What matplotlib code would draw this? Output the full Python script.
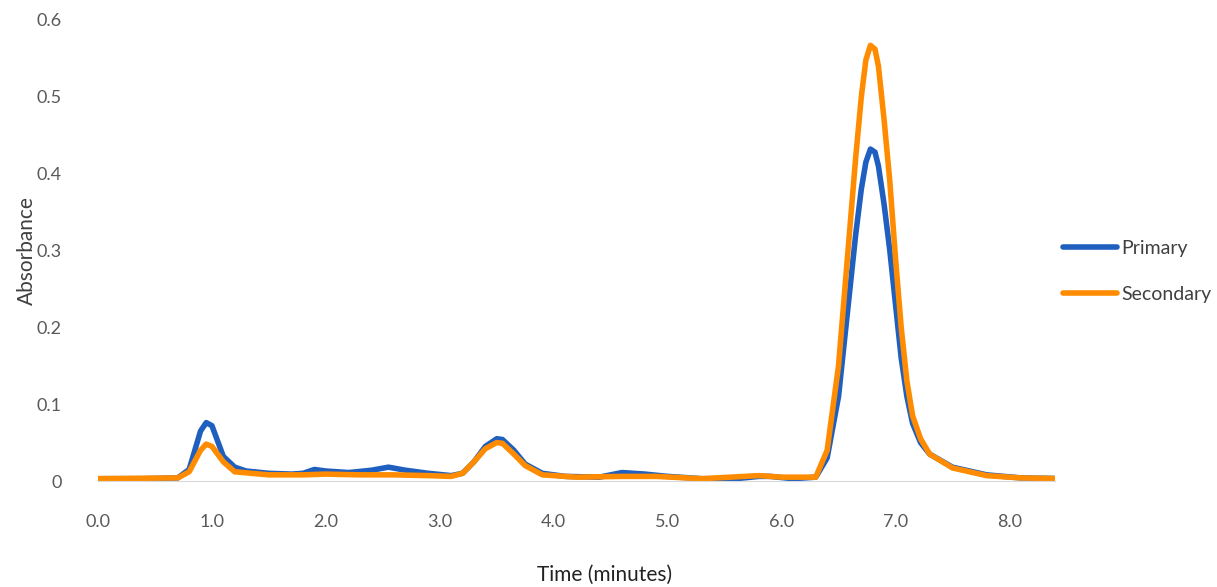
import matplotlib
matplotlib.use("Agg")
import matplotlib.pyplot as plt

t_primary = [0.0,0.4,0.7,0.8,0.85,0.9,0.95,1.0,1.05,1.1,1.2,1.3,1.5,1.7,1.8,1.9,2.0,2.2,2.4,2.55,2.7,2.9,3.1,3.2,3.3,3.4,3.5,3.55,3.65,3.75,3.9,4.1,4.4,4.6,4.8,5.0,5.3,5.6,5.8,5.9,6.1,6.3,6.4,6.5,6.6,6.65,6.7,6.74,6.78,6.82,6.85,6.9,6.95,7.0,7.05,7.1,7.15,7.22,7.3,7.5,7.8,8.1,8.5]
primary = [0.003,0.003,0.004,0.015,0.04,0.065,0.076,0.072,0.052,0.032,0.018,0.013,0.01,0.009,0.01,0.015,0.013,0.011,0.014,0.018,0.014,0.01,0.007,0.01,0.025,0.045,0.055,0.054,0.04,0.022,0.01,0.006,0.005,0.011,0.009,0.006,0.003,0.003,0.006,0.006,0.003,0.005,0.03,0.11,0.25,0.32,0.38,0.415,0.432,0.428,0.41,0.36,0.3,0.23,0.16,0.11,0.075,0.05,0.035,0.018,0.008,0.004,0.003]
t_secondary = [0.0,0.7,0.8,0.9,0.95,1.0,1.1,1.2,1.5,1.8,2.0,2.3,2.6,2.9,3.1,3.2,3.3,3.4,3.5,3.55,3.65,3.75,3.9,4.2,4.6,4.9,5.3,5.8,6.0,6.3,6.4,6.5,6.6,6.65,6.7,6.74,6.78,6.82,6.85,6.9,6.95,7.0,7.05,7.1,7.15,7.22,7.3,7.5,7.8,8.1,8.5]
secondary = [0.003,0.004,0.012,0.04,0.048,0.045,0.025,0.012,0.008,0.008,0.009,0.008,0.008,0.007,0.006,0.01,0.025,0.042,0.05,0.049,0.035,0.02,0.008,0.005,0.006,0.006,0.003,0.007,0.005,0.005,0.04,0.15,0.33,0.42,0.5,0.548,0.567,0.562,0.54,0.47,0.39,0.29,0.2,0.13,0.085,0.055,0.035,0.017,0.007,0.004,0.003]
xticks = [0,1,2,3,4,5,6,7,8]
yticks = [0,0.1,0.2,0.3,0.4,0.5,0.6]

plt.rcParams['font.family'] = ['Lato', 'DejaVu Sans']
fig = plt.figure(figsize=(12.17,5.87), dpi=100)
ax = fig.add_axes([98/1217, 1-481/587, (1055-98)/1217, (481-20)/587])
ax.plot(t_primary, primary, color='#1F5FBF', lw=4, solid_joinstyle='round', solid_capstyle='round', label='Primary')
ax.plot(t_secondary, secondary, color='#FF8C00', lw=4, solid_joinstyle='round', solid_capstyle='round', label='Secondary')
ax.set_xlim(0, 8.4)
ax.set_ylim(0, 0.6)
ax.set_xticks(xticks)
ax.set_xticklabels([f"{v:.1f}" for v in xticks])
ax.set_yticks(yticks)
ax.set_yticklabels(['0'] + [f"{v:.1f}" for v in yticks[1:]])
for s in ['top','right','left']:
    ax.spines[s].set_visible(False)
ax.spines['bottom'].set_color('#D9D9D9')
ax.tick_params(length=0, labelsize=13, labelcolor='#595959')
ax.tick_params(axis='x', pad=24)
ax.tick_params(axis='y', pad=26)
fig.text(605/1217, 1-575/587, 'Time (minutes)', fontsize=15, color='#222222', ha='center', va='center')
ax.set_ylabel('Absorbance', fontsize=15, color='#404040', labelpad=0)
ax.legend(loc='center left', bbox_to_anchor=(0.99, 0.455), frameon=False, fontsize=14, handlelength=2.8, labelspacing=1.5, handletextpad=0.2, labelcolor='#404040')
fig.savefig('out.png', dpi=100)
